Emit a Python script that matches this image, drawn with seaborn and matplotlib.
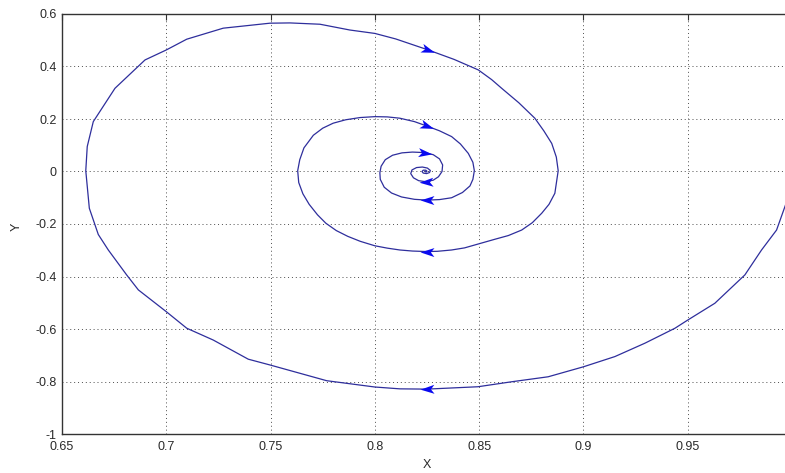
import numpy as np
import pandas as pd
import matplotlib
matplotlib.use("Agg")
import matplotlib.pyplot as plt
from matplotlib.path import Path
from matplotlib.markers import MarkerStyle
from matplotlib.transforms import Affine2D
import seaborn as sns

# Phase-plane trajectory (X, Y), in the order it is traversed
traj_x = [0.9990, 0.9966, 0.9926, 0.9854, 0.9774, 0.9630, 0.9500, 0.9439, 0.9295, 0.9151,
          0.9000, 0.8831, 0.8656, 0.8494, 0.8250, 0.8120, 0.8000, 0.7769, 0.7497, 0.7393,
          0.7225, 0.7098, 0.7000, 0.6866, 0.6810, 0.6722, 0.6674, 0.6631, 0.6614, 0.6621,
          0.6650, 0.6754, 0.6898, 0.7000, 0.7098, 0.7273, 0.7497, 0.7593, 0.7737, 0.7880,
          0.8000, 0.8100, 0.8256, 0.8380, 0.8496, 0.8560, 0.8608, 0.8690, 0.8767, 0.8810,
          0.8848, 0.8870, 0.8879,
          0.8863, 0.8835, 0.8800, 0.8755, 0.8704, 0.8640, 0.8576, 0.8496, 0.8430, 0.8368,
          0.8300, 0.8250, 0.8180, 0.8120, 0.8060, 0.8000, 0.7930, 0.7870, 0.7815, 0.7765,
          0.7725, 0.7685, 0.7655, 0.7635, 0.7630, 0.7640, 0.7660, 0.7705, 0.7750, 0.7800,
          0.7860, 0.7929, 0.8000, 0.8060, 0.8120, 0.8190, 0.8250, 0.8310, 0.8368, 0.8410,
          0.8448, 0.8470, 0.8477, 0.8470, 0.8456, 0.8420, 0.8368, 0.8310, 0.8250, 0.8190,
          0.8128, 0.8080, 0.8045, 0.8026, 0.8024, 0.8030, 0.8050, 0.8085, 0.8130, 0.8180,
          0.8240, 0.8280, 0.8310, 0.8325, 0.8322, 0.8305, 0.8280, 0.8245, 0.8210, 0.8185,
          0.8172, 0.8178, 0.8200, 0.8228, 0.8252, 0.8266, 0.8262, 0.8248, 0.8232, 0.8226,
          0.8232, 0.8244, 0.8250, 0.8246, 0.8241]
traj_y = [-0.080, -0.134, -0.223, -0.299, -0.394, -0.502, -0.566, -0.597, -0.654, -0.705,
          -0.744, -0.782, -0.801, -0.820, -0.829, -0.828, -0.821, -0.797, -0.737, -0.715,
          -0.642, -0.597, -0.534, -0.451, -0.394, -0.299, -0.240, -0.140, 0.003, 0.095,
          0.190, 0.317, 0.425, 0.463, 0.504, 0.546, 0.565, 0.566, 0.561, 0.539,
          0.526, 0.505, 0.463, 0.427, 0.387, 0.350, 0.317, 0.262, 0.203, 0.155,
          0.107, 0.055, 0.003,
          -0.083, -0.125, -0.159, -0.195, -0.223, -0.244, -0.258, -0.276, -0.291, -0.299,
          -0.304, -0.305, -0.303, -0.299, -0.292, -0.283, -0.266, -0.247, -0.225, -0.197,
          -0.165, -0.125, -0.085, -0.042, 0.003, 0.045, 0.090, 0.138, 0.165, 0.184,
          0.197, 0.2055, 0.209, 0.208, 0.203, 0.190, 0.173, 0.155, 0.133, 0.105,
          0.069, 0.035, 0.003, -0.030, -0.055, -0.080, -0.100, -0.107, -0.109, -0.106,
          -0.097, -0.082, -0.060, -0.030, -0.005, 0.020, 0.045, 0.062, 0.071, 0.074,
          0.072, 0.064, 0.048, 0.025, 0.000, -0.020, -0.033, -0.039, -0.035, -0.024,
          -0.008, 0.006, 0.015, 0.017, 0.013, 0.004, -0.004, -0.008, -0.006, 0.000,
          0.005, 0.005, 0.001, -0.002, 0.000]

# Direction arrows placed along the trajectory
arrow_x = [0.8256, 0.8250, 0.8240, 0.8245, 0.8250, 0.8250, 0.8250]
arrow_y = [0.463, 0.173, 0.072, -0.039, -0.109, -0.305, -0.829]

x_ticks = [0.65, 0.70, 0.75, 0.80, 0.85, 0.90, 0.95]
x_tick_labels = ["0.65", "0.7", "0.75", "0.8", "0.85", "0.9", "0.95"]
y_ticks = [-1.0, -0.8, -0.6, -0.4, -0.2, 0.0, 0.2, 0.4, 0.6]
y_tick_labels = ["-1", "-0.8", "-0.6", "-0.4", "-0.2", "0", "0.2", "0.4", "0.6"]

sns.set_style("white")
plt.rcParams["font.family"] = ["Liberation Sans", "DejaVu Sans"]
plt.rcParams["axes.unicode_minus"] = False

W, H = 785, 473
fig = plt.figure(figsize=(W / 100, H / 100), dpi=100)
fig.patch.set_facecolor("white")
# the plot box runs past the right edge of the canvas
ax = fig.add_axes([62 / W, 39 / H, 730 / W, 420 / H])

df = pd.DataFrame({"X": traj_x, "Y": traj_y})
sns.lineplot(data=df, x="X", y="Y", sort=False, estimator=None,
             color="#2e2e9c", linewidth=0.9, ax=ax)

ax.set_xlim(0.65, 1.0)
ax.set_ylim(-1.0, 0.6)
ax.set_xticks(x_ticks, x_tick_labels)
ax.set_yticks(y_ticks, y_tick_labels)

ax.grid(True, color="0.3", linestyle=(0, (1, 3)), linewidth=0.7)
ax.set_axisbelow(True)
for sp in ax.spines.values():
    sp.set_color("#333333")
    sp.set_linewidth(1.0)
ax.tick_params(axis="both", direction="in", length=4, width=0.8, color="#333333",
               labelsize=9, labelcolor="#2a2a2a", top=True, right=True)
ax.tick_params(axis="x", pad=5)
ax.tick_params(axis="y", pad=4)

ax.set_xlabel("X", fontsize=9, color="#2a2a2a")
ax.set_ylabel("Y", fontsize=9, color="#2a2a2a")
ax.xaxis.label.set_verticalalignment("center")
ax.yaxis.label.set_verticalalignment("center")
ax.xaxis.set_label_coords(0.5, -31 / 420)
ax.yaxis.set_label_coords(-45 / 730, 0.493)

# notched arrowhead, pointing along +x before rotation
head = Path([(1.0, 0.0), (-1.0, 0.65), (-0.5, 0.0), (-1.0, -0.65), (1.0, 0.0)],
            [Path.MOVETO, Path.LINETO, Path.LINETO, Path.LINETO, Path.CLOSEPOLY])

pts = ax.transData.transform(np.column_stack([traj_x, traj_y]))
for axx, ayy in zip(arrow_x, arrow_y):
    p = ax.transData.transform((axx, ayy))
    d = np.hypot(*(pts - p).T)
    i = int(np.argmin(d))
    i0, i1 = max(i - 1, 0), min(i + 1, len(pts) - 1)
    v = pts[i1] - pts[i0]
    ang = np.degrees(np.arctan2(v[1], v[0]))
    m = MarkerStyle(head, transform=Affine2D().rotate_deg(ang))
    ax.plot([axx], [ayy], linestyle="none", marker=m, markersize=10,
            color="#0a0af0", markeredgewidth=0)

fig.savefig("out.png", dpi=100)
